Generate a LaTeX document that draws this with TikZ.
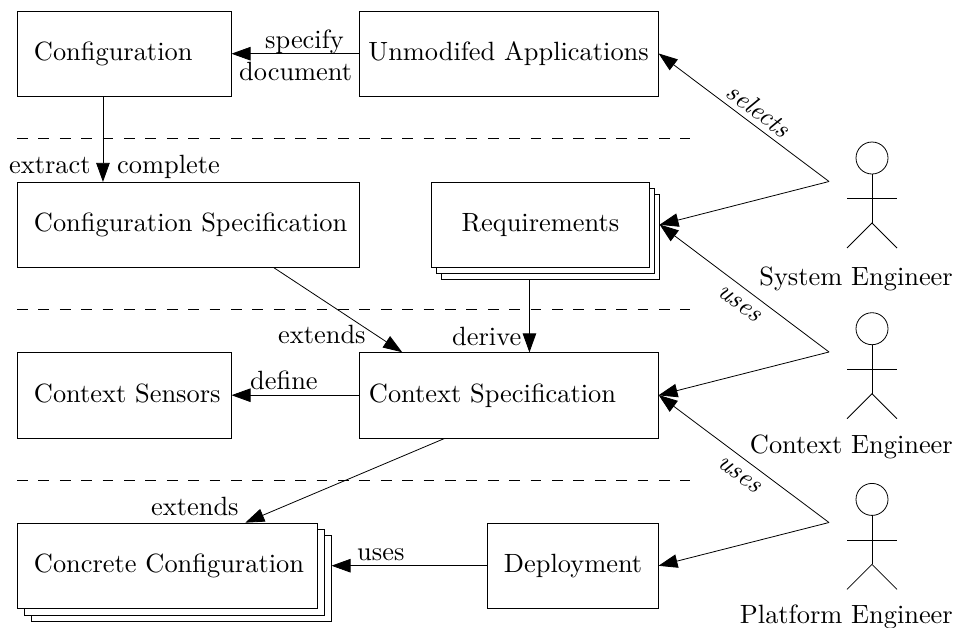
\documentclass[tikz,border=0pt]{standalone}
\usepackage{fontspec}
\setmainfont[Extension=.otf,ItalicFont=lmroman10-italic]{lmroman10-regular}
\usetikzlibrary{arrows.meta,calc}
\tikzset{
  every node/.style={font=\fontsize{26.4}{32}\selectfont, inner sep=0pt},
  box/.style={draw, line width=0.9pt, fill=white, anchor=north west, minimum height=85.5pt,
     text height=20pt, text depth=6pt, align=left},
  boxw/.style 2 args={box, inner xsep=#2, text width=#1-2*#2},
  lab/.style={anchor=base west},
  conn/.style={line width=0.8pt, -{Triangle[length=19pt,width=13.5pt]}, shorten >=-0.4pt},
  sep/.style={line width=0.6pt, dash pattern=on 10.7pt off 10.7pt},
  actor/.style={line width=0.8pt}
}
\newcommand{\actorfig}[2]{%
  \draw[actor] (#1,#2) circle (16);
  \draw[actor] (#1,#2+16) -- (#1,#2+65);
  \draw[actor] (#1-25,#2+40.7) -- (#1+25,#2+40.7);
  \draw[actor] (#1-25,#2+90) -- (#1,#2+65) -- (#1+25,#2+90);
}
\begin{document}
\begin{tikzpicture}[x=1pt,y=-1pt]
\useasboundingbox (0,0) rectangle (955,627);
\node[boxw={214pt}{16.5pt}] (cfg) at (17,10.5) {\mbox{Configuration}};
\node[boxw={299pt}{9pt}] (app) at (359,10.5) {\mbox{Unmodifed Applications}};
\node[boxw={342pt}{16.5pt}] (spec) at (17,181.5) {\mbox{Configuration Specification}};
\node[boxw={218pt}{10pt}] (req3) at (441,193.5) {};
\node[boxw={218pt}{10pt}] (req2) at (436,187.5) {};
\node[boxw={218pt}{10pt},align=center] (req) at (431,181.5) {\mbox{Requirements}};
\node[boxw={214pt}{16.5pt}] (sens) at (17,352) {\mbox{Context Sensors}};
\node[boxw={299pt}{9.5pt}] (ctx) at (359,352) {\mbox{Context Specification}};
\node[boxw={300pt}{17pt}] (cc3) at (31,535) {};
\node[boxw={300pt}{17pt}] (cc2) at (24,529) {};
\node[boxw={300pt}{16.5pt}] (cc) at (17,522.5) {\mbox{Concrete Configuration}};
\node[boxw={171pt}{16.5pt}] (dep) at (487,522.5) {\mbox{Deployment}};
\foreach \y in {138.5,309.5,480} \draw[sep] (17,\y) -- (690,\y);
\coordinate (se) at (829,181.5);
\coordinate (ce) at (829,352);
\coordinate (pe) at (829,522.5);
\actorfig{872}{158}
\actorfig{872}{328.7}
\actorfig{872}{499.4}
\node[anchor=base east] (sel) at (953,285) {System Engineer};
\node[anchor=base east] (cel) at (953,453) {Context Engineer};
\node[anchor=base east] (pel) at (953,623) {Platform Engineer};
\coordinate (cfgout) at ($(cfg.south west)!0.4!(cfg.south east)$);
\coordinate (reqout) at ($(req3.south west)!0.404!(req3.south east)$);
\draw[conn] (app.west) -- (cfg.east);
\draw[conn] (cfgout) -- (cfgout |- spec.north);
\draw[conn] ($(spec.south west)!0.75!(spec.south east)$) -- ($(ctx.north west)!0.1429!(ctx.north east)$);
\draw[conn] (reqout) -- (reqout |- ctx.north);
\draw[conn] (ctx.west) -- (sens.east);
\draw[conn] ($(ctx.south west)!0.2857!(ctx.south east)$) -- ($(cc.north west)!0.76!(cc.north east)$);
\draw[conn] (dep.west) -- (cc3.east |- dep.west);
\draw[conn] (se) -- (app.east);
\draw[conn] (se) -- (req3.east |- req.east);
\draw[conn] (ce) -- (req3.east |- req.east);
\draw[conn] (ce) -- (ctx.east);
\draw[conn] (pe) -- (ctx.east);
\draw[conn] (pe) -- (dep.east);
\node[lab] (l1) at (265,48) {specify};
\node[lab] (l2) at (239,80) {document};
\node[lab] (l3) at (9,173) {extract};
\node[lab] (l4) at (117,173) {complete};
\node[lab] (l5) at (278,343) {extends};
\node[lab] (l6) at (452,345) {derive};
\node[lab] (l7) at (250,389) {define};
\node[lab] (l8) at (151,515) {extends};
\node[lab] (l9) at (357,560) {uses};
\node[rotate=-36.6] (l10) at (759,110) {\itshape selects};
\node[rotate=-36.6] (l11) at (739,304) {\itshape uses};
\node[rotate=-36.6] (l12) at (739,475) {\itshape uses};
\end{tikzpicture}
\end{document}
